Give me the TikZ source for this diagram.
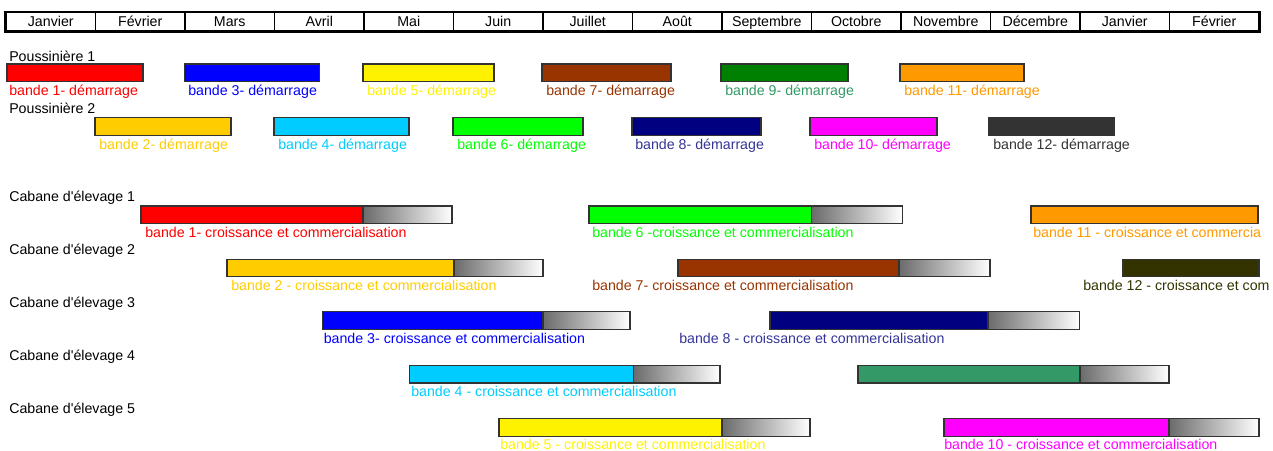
\documentclass[tikz,border=0pt]{standalone}
\usepackage{fontspec}
\setmainfont{Liberation Sans}
\usetikzlibrary{positioning}
\definecolor{brun}{HTML}{993300}
\definecolor{vert}{HTML}{008000}
\definecolor{vertmer}{HTML}{339966}
\definecolor{orange}{HTML}{FF9900}
\definecolor{or}{HTML}{FFCC00}
\definecolor{ciel}{HTML}{00CCFF}
\definecolor{lime}{HTML}{00FF00}
\definecolor{marine}{HTML}{000080}
\definecolor{indigo}{HTML}{333399}
\definecolor{fonce}{HTML}{333333}
\definecolor{olive}{HTML}{333300}
\definecolor{fuchsia}{HTML}{FF00FF}

\begin{document}
\begin{tikzpicture}
  [
  x=0.75pt, y=-0.75pt,
  font=\fontsize{10.65}{12}\selectfont,
  month/.style={rectangle, inner sep=0pt, minimum width=67.1pt, minimum height=14pt, text height=1.6ex, text depth=0.35ex, draw=black, line width=0.9pt},
  rowlabel/.style={anchor=west, inner sep=0pt, text height=1.6ex, text depth=0.35ex},
  barlabel/.style={anchor=west, inner sep=0pt, text height=1.6ex, text depth=0.35ex},
  bar/.style={draw=black!80, line width=0.9pt},
  fade/.style={bar, left color=black!58, right color=white},
  ]
  \useasboundingbox (0,0) rectangle (1273,450);
  \clip (0,0) rectangle (1273,450);

  \node[month] (jan) at (50.75,21.65) {Janvier};
  \node[month] (fev) at (140.25,21.65) {Février};
  \node[month] (mar) at (229.75,21.65) {Mars};
  \node[month] (avr) at (319.25,21.65) {Avril};
  \node[month] (mai) at (408.75,21.65) {Mai};
  \node[month] (jun) at (498.25,21.65) {Juin};
  \node[month] (jul) at (587.75,21.65) {Juillet};
  \node[month] (aou) at (677.25,21.65) {Août};
  \node[month] (sep) at (766.75,21.65) {Septembre};
  \node[month] (oct) at (856.25,21.65) {Octobre};
  \node[month] (nov) at (945.75,21.65) {Novembre};
  \node[month] (dec) at (1035.25,21.65) {Décembre};
  \node[month] (jan2) at (1124.75,21.65) {Janvier};
  \node[month] (fev2) at (1214.25,21.65) {Février};
  \draw[line width=1.6pt] (jan.north west) rectangle (fev2.south east);

  \node[rowlabel] (pous1) at (9,57) {Poussinière 1};
  \draw[bar, fill=red] (7,64) rectangle (143,81.5);
  \draw[bar, fill=blue] (184.5,64) rectangle (319.5,81.5);
  \draw[bar, fill=yellow] (363,64) rectangle (494,81.5);
  \draw[bar, fill=brun] (542,64) rectangle (671,81.5);
  \draw[bar, fill=vert] (721,64) rectangle (848,81.5);
  \draw[bar, fill=orange] (900,64) rectangle (1024,81.5);
  \node[barlabel, red] (dem1) at (9,91) {bande 1- démarrage};
  \node[barlabel, blue] (dem3) at (188,91) {bande 3- démarrage};
  \node[barlabel, yellow] (dem5) at (367,91) {bande 5- démarrage};
  \node[barlabel, brun] (dem7) at (546,91) {bande 7- démarrage};
  \node[barlabel, vertmer] (dem9) at (725,91) {bande 9- démarrage};
  \node[barlabel, orange] (dem11) at (904,91) {bande 11- démarrage};

  \node[rowlabel] (pous2) at (9,109) {Poussinière 2};
  \draw[bar, fill=or] (95,117.7) rectangle (231,135.5);
  \draw[bar, fill=ciel] (274,117.7) rectangle (409,135.5);
  \draw[bar, fill=lime] (453,117.7) rectangle (583,135.5);
  \draw[bar, fill=marine] (632,117.7) rectangle (761,135.5);
  \draw[bar, fill=fuchsia] (810,117.7) rectangle (937,135.5);
  \draw[bar, fill=fonce] (989,117.7) rectangle (1114,135.5);
  \node[barlabel, or] (dem2) at (99,145) {bande 2- démarrage};
  \node[barlabel, ciel] (dem4) at (278,145) {bande 4- démarrage};
  \node[barlabel, lime] (dem6) at (457,145) {bande 6- démarrage};
  \node[barlabel, indigo] (dem8) at (635,145) {bande 8- démarrage};
  \node[barlabel, fuchsia] (dem10) at (814,145) {bande 10- démarrage};
  \node[barlabel, fonce] (dem12) at (993,145) {bande 12- démarrage};

  \node[rowlabel] (cab1) at (9,197.5) {Cabane d\textquotesingle élevage 1};
  \draw[bar, fill=red] (141,206) rectangle (363,223.5);
  \draw[fade] (363,206) rectangle (452,223.5);
  \draw[bar, fill=lime] (589,206) rectangle (811.5,223.5);
  \draw[fade] (811.5,206) rectangle (902.5,223.5);
  \draw[bar, fill=orange] (1031,206) rectangle (1258,223.5);
  \node[barlabel, red] (cro1) at (145,233) {bande 1- croissance et commercialisation};
  \node[barlabel, lime] (cro6) at (592,233) {bande 6 -croissance et commercialisation};
  \node[barlabel, orange] (cro11) at (1033,233) {bande 11 - croissance et commercia};

  \node[rowlabel] (cab2) at (9,250) {Cabane d\textquotesingle élevage 2};
  \draw[bar, fill=or] (227,259.3) rectangle (454,276.7);
  \draw[fade] (454,259.3) rectangle (543,276.7);
  \draw[bar, fill=brun] (678,259.3) rectangle (899,276.7);
  \draw[fade] (899,259.3) rectangle (990,276.7);
  \draw[bar, fill=olive] (1123,259.3) rectangle (1259,276.7);
  \node[barlabel, or] (cro2) at (231,286) {bande 2 - croissance et commercialisation};
  \node[barlabel, brun] (cro7) at (592,286) {bande 7- croissance et commercialisation};
  \node[barlabel, olive] (cro12) at (1083,286) {bande 12 - croissance et com};

  \node[rowlabel] (cab3) at (9,303) {Cabane d\textquotesingle élevage 3};
  \draw[bar, fill=blue] (322.5,311.7) rectangle (543,329.5);
  \draw[fade] (543,311.7) rectangle (630,329.5);
  \draw[bar, fill=marine] (770,311.7) rectangle (988,329.5);
  \draw[fade] (988,311.7) rectangle (1079.5,329.5);
  \node[barlabel, blue] (cro3) at (323.5,339) {bande 3- croissance et commercialisation};
  \node[barlabel, indigo] (cro8) at (679,339) {bande 8 - croissance et commercialisation};

  \node[rowlabel] (cab4) at (9,356.5) {Cabane d\textquotesingle élevage 4};
  \draw[bar, fill=ciel] (409.5,365.5) rectangle (633.5,383);
  \draw[fade] (633.5,365.5) rectangle (720,383);
  \draw[bar, fill=vertmer] (858,365.5) rectangle (1080,383);
  \draw[fade] (1080,365.5) rectangle (1169,383);
  \node[barlabel, ciel] (cro4) at (411,392) {bande 4 - croissance et commercialisation};

  \node[rowlabel] (cab5) at (9,409) {Cabane d\textquotesingle élevage 5};
  \draw[bar, fill=yellow] (499,418.3) rectangle (722,436.5);
  \draw[fade] (722,418.3) rectangle (810,436.5);
  \draw[bar, fill=fuchsia] (944,418.3) rectangle (1169,436.5);
  \draw[fade] (1169,418.3) rectangle (1259,436.5);
  \node[barlabel, yellow] (cro5) at (500,445) {bande 5 - croissance et commercialisation};
  \node[barlabel, fuchsia] (cro10) at (944,445) {bande 10 - croissance et commercialisation};
\end{tikzpicture}
\end{document}
